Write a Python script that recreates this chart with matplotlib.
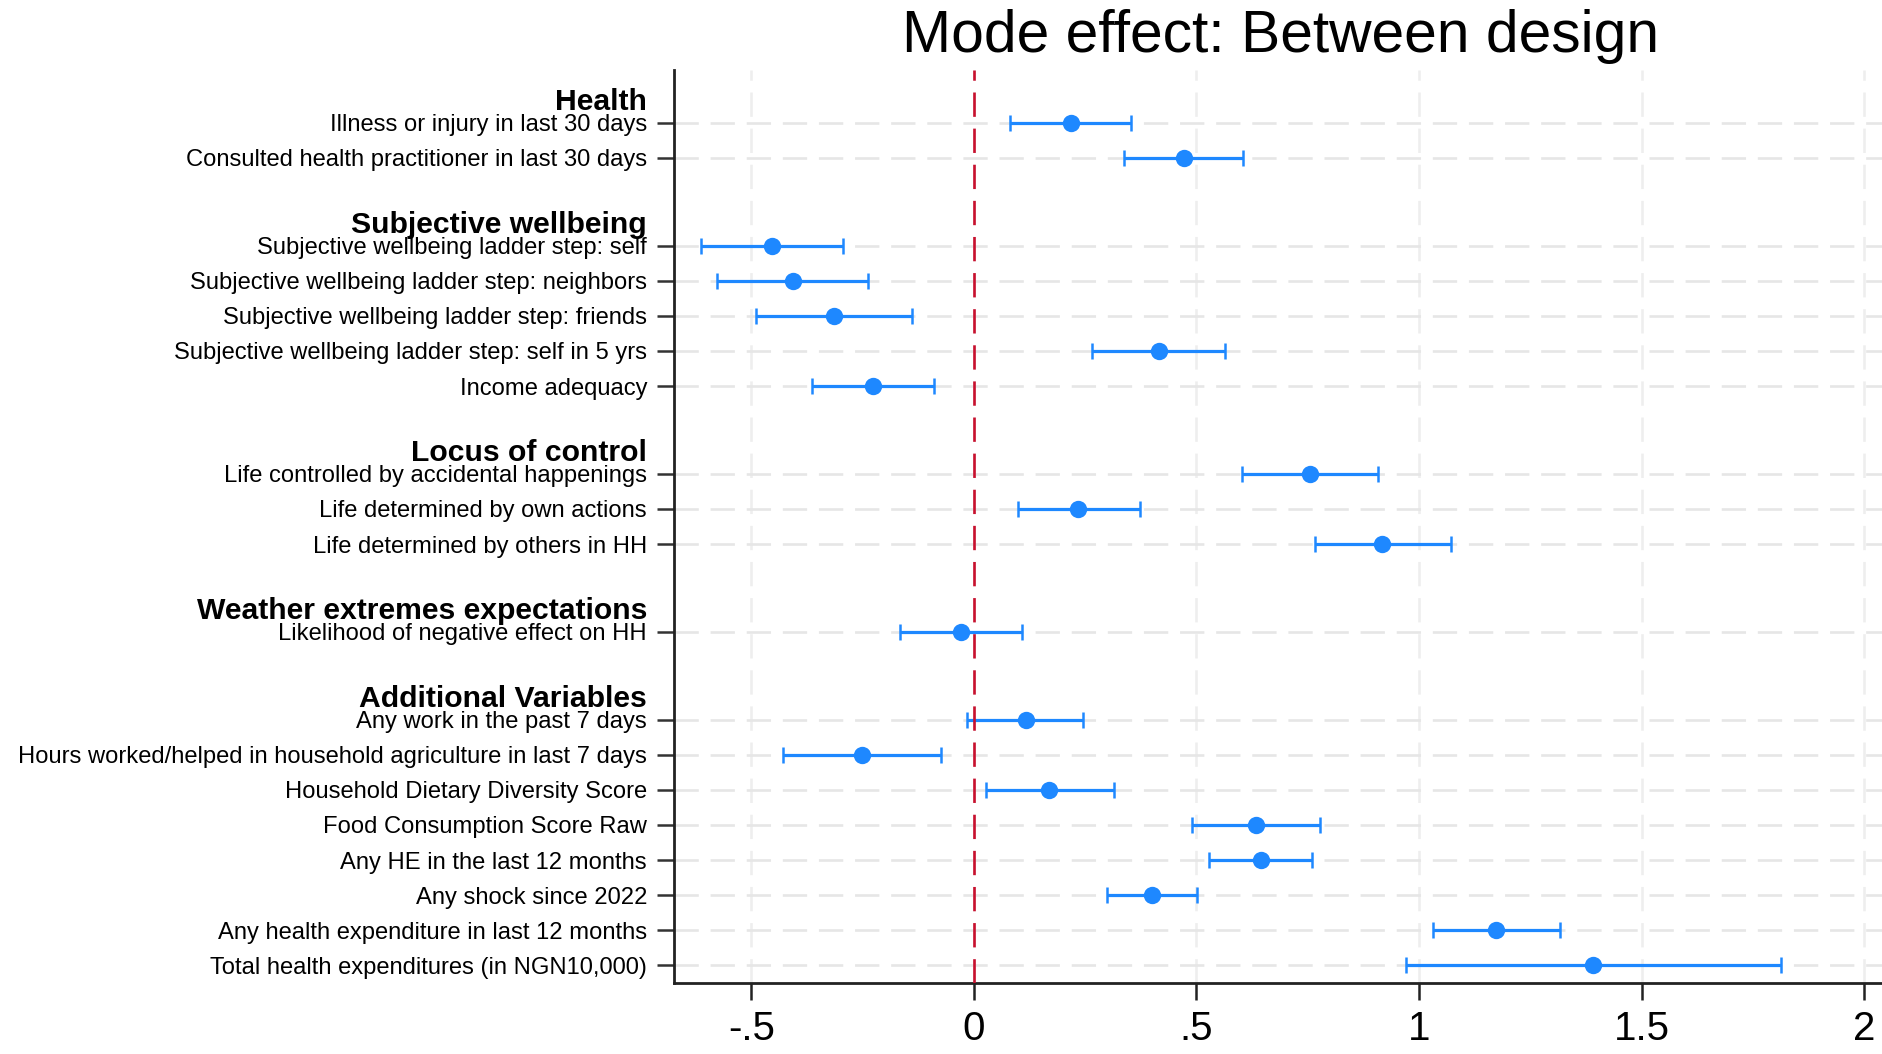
import matplotlib
matplotlib.use("Agg")
import matplotlib.pyplot as plt
from matplotlib.transforms import blended_transform_factory

plt.rcParams["font.family"] = ["Liberation Sans", "DejaVu Sans"]
plt.rcParams["lines.scale_dashes"] = False

# ---- data -----------------------------------------------------------------
group_names = ["Health", "Subjective wellbeing", "Locus of control",
               "Weather extremes expectations", "Additional Variables"]

health_labels = ["Illness or injury in last 30 days",
                 "Consulted health practitioner in last 30 days"]
health_est = [0.218, 0.473]
health_lo = [0.080, 0.338]
health_hi = [0.354, 0.605]

swb_labels = ["Subjective wellbeing ladder step: self",
              "Subjective wellbeing ladder step: neighbors",
              "Subjective wellbeing ladder step: friends",
              "Subjective wellbeing ladder step: self in 5 yrs",
              "Income adequacy"]
swb_est = [-0.454, -0.407, -0.315, 0.416, -0.226]
swb_lo = [-0.614, -0.577, -0.489, 0.266, -0.364]
swb_hi = [-0.295, -0.238, -0.140, 0.564, -0.090]

locus_labels = ["Life controlled by accidental happenings",
                "Life determined by own actions",
                "Life determined by others in HH"]
locus_est = [0.755, 0.234, 0.917]
locus_lo = [0.602, 0.098, 0.766]
locus_hi = [0.907, 0.372, 1.071]

weather_labels = ["Likelihood of negative effect on HH"]
weather_est = [-0.029]
weather_lo = [-0.167]
weather_hi = [0.107]

extra_labels = ["Any work in the past 7 days",
                "Hours worked/helped in household agriculture in last 7 days",
                "Household Dietary Diversity Score",
                "Food Consumption Score Raw",
                "Any HE in the last 12 months",
                "Any shock since 2022",
                "Any health expenditure in last 12 months",
                "Total health expenditures (in NGN10,000)"]
extra_est = [0.116, -0.251, 0.169, 0.633, 0.644, 0.400, 1.172, 1.391]
extra_lo = [-0.015, -0.428, 0.028, 0.490, 0.529, 0.298, 1.031, 0.971]
extra_hi = [0.245, -0.073, 0.314, 0.778, 0.760, 0.502, 1.317, 1.814]

x_ticks = [-0.5, 0, 0.5, 1, 1.5, 2]
x_tick_labels = ["-.5", "0", ".5", "1", "1.5", "2"]
title = "Mode effect: Between design"

groups = [
    (health_labels, health_est, health_lo, health_hi),
    (swb_labels, swb_est, swb_lo, swb_hi),
    (locus_labels, locus_est, locus_lo, locus_hi),
    (weather_labels, weather_est, weather_lo, weather_hi),
    (extra_labels, extra_est, extra_lo, extra_hi),
]

# ---- layout of rows: each new group gets an extra 1.5-row gap -----------
labels, est, lo, hi, ypos, head_y = [], [], [], [], [], []
row = 0.0
for gi, (lab, e, l, h) in enumerate(groups):
    if gi > 0:
        row += 1.5
    head_y.append(row)
    for k in range(len(lab)):
        labels.append(lab[k]); est.append(e[k]); lo.append(l[k]); hi.append(h[k])
        ypos.append(row)
        row += 1

# ---- figure ----------------------------------------------------------------
W, H = 1882, 1054
fig = plt.figure(figsize=(W / 100, H / 100), dpi=100)
ax = fig.add_axes([674 / W, 1 - 983 / H, 1 - 674 / W, (983 - 70) / H])

blue = "#1E88FF"
grid_col = "#E6E6E6"
dash = (0, (17.5, 8.5))

ax.set_xlim(-0.674, 2.0404)
ax.set_ylim(24.5, -1.5)

for xv in x_ticks:
    ax.axvline(xv, color="#EEEEEE", lw=1.9, linestyle=dash, zorder=0)
for yv in ypos:
    ax.axhline(yv, color=grid_col, lw=1.9, linestyle=dash, zorder=0)

# confidence intervals with end caps, then the point estimates
xerr = [[e - l for e, l in zip(est, lo)], [h - e for e, h in zip(est, hi)]]
ax.errorbar(est, ypos, xerr=xerr, fmt="none", ecolor=blue,
            elinewidth=2.3, capsize=5.8, capthick=1.8, zorder=3)
ax.plot(est, ypos, "o", color=blue, ms=12.5, mew=0, zorder=5)

ax.axvline(0, color="#C8102E", lw=1.9, linestyle=dash, zorder=4)

ax.set_xticks(x_ticks)
ax.set_xticklabels(x_tick_labels, fontsize=29)
ax.set_yticks(ypos)
ax.set_yticklabels(labels, fontsize=17.1)
ax.tick_params(axis="x", length=12.2, width=1.8, pad=7.5, color="#222222")
ax.tick_params(axis="y", length=12.2, width=1.8, pad=7.2, color="#333333")

for side in ("top", "right"):
    ax.spines[side].set_visible(False)
for side in ("left", "bottom"):
    ax.spines[side].set_linewidth(2.0)
    ax.spines[side].set_color("#222222")

trans = blended_transform_factory(ax.transAxes, ax.transData)
for name, hy in zip(group_names, head_y):
    ax.annotate(name, xy=(0, hy - 0.37), xycoords=trans,
                xytext=(-19.4, 0), textcoords="offset points",
                ha="right", va="baseline", fontsize=21.7, fontweight="bold")

fig.text(1281 / W, 1 - 51.7 / H, title, ha="center", va="baseline", fontsize=42.3)

fig.savefig("out.png", dpi=100)
